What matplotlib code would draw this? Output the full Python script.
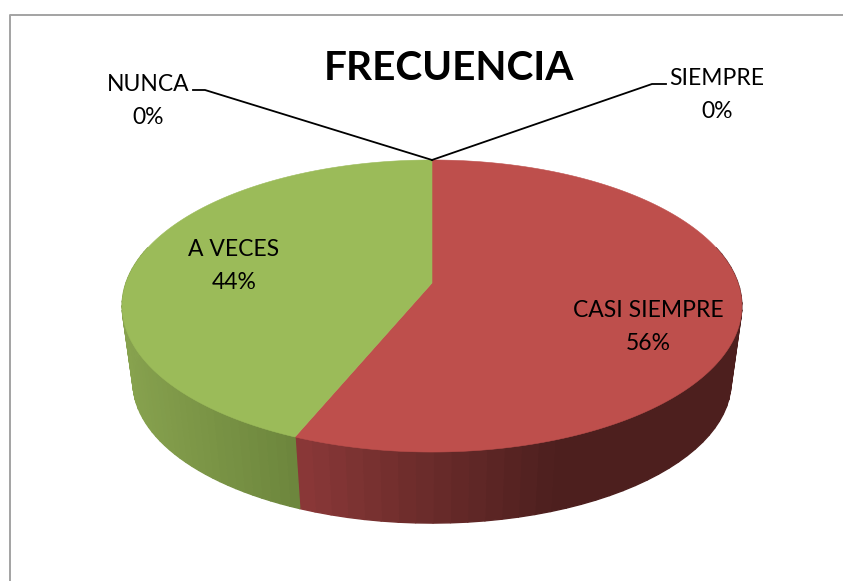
import numpy as np
import matplotlib
matplotlib.use("Agg")
import matplotlib.pyplot as plt
from matplotlib.patches import Polygon

categories = ["SIEMPRE", "CASI SIEMPRE", "A VECES", "NUNCA"]
values = [0, 56.25, 43.75, 0]
top_colors = ["#4F81BD", "#BE4F4C", "#9BBB59", "#8064A2"]
title = "FRECUENCIA"

W, H = 843, 581
plt.rcParams["font.family"] = ["Lato", "DejaVu Sans"]
fig = plt.figure(figsize=(W / 100, H / 100), dpi=100)
ax = fig.add_axes([0, 0, 1, 1])
ax.set_xlim(0, W)
ax.set_ylim(H, 0)
ax.axis("off")

# chart-area frame (only left and top edges fall inside the picture)
ax.plot([9.5, 9.5, W], [H, 14.5, 14.5], color="#A3A3A3", lw=1.4, solid_capstyle="butt", zorder=1)

# perspective projection of the pie disc
CX, CY, R, A, K = 432.0, 283.0, 306.0, 142.4, 0.1575
S, OFF = 0.965, 77.0


def rim(theta, bottom=False):
    """theta: clockwise from 12 o'clock, radians."""
    x, y = np.sin(theta), np.cos(theta)
    d = 1 + K * y
    px, py = R * x / d, -A * y / d
    if bottom:
        return CX + S * px, CY + S * py + OFF
    return CX + px, CY + py


def lerp_stops(x, xs, cols):
    cols = np.array([matplotlib.colors.to_rgb(c) for c in cols])
    return tuple(np.interp(x, xs, cols[:, i]) for i in range(3))


side_stops = {
    "CASI SIEMPRE": ([300, 420, 555, 745], ["#8A3838", "#6C2C2B", "#4D1F1E", "#4D1F1E"]),
    "A VECES": ([120, 300], ["#88A34F", "#6C853C"]),
}

total = sum(values)
fractions = np.array(values) / total
edges = np.concatenate([[0], np.cumsum(fractions)]) * 2 * np.pi

# side wall
for i, name in enumerate(categories):
    if values[i] == 0:
        continue
    start, end = edges[i], edges[i + 1]
    lo, hi = max(start, np.radians(75)), min(end, np.radians(285))
    steps = np.linspace(lo, hi, 46)
    for a, b in zip(steps[:-1], steps[1:]):
        xa, ya = rim(a)
        xb, yb = rim(b)
        xc, yc = rim(b, True)
        xd, yd = rim(a, True)
        col = lerp_stops((xa + xb + xc + xd) / 4, *side_stops[name])
        ax.add_patch(Polygon([(xa, ya), (xb, yb), (xc, yc), (xd, yd)], closed=True,
                             facecolor=col, edgecolor=col, lw=1.0, zorder=2))

# top face
for i, name in enumerate(categories):
    if values[i] == 0:
        continue
    t = np.linspace(edges[i], edges[i + 1], 240)
    xs, ys = rim(t)
    pts = [(CX, CY)] + list(zip(xs, ys))
    ax.add_patch(Polygon(pts, closed=True, facecolor=top_colors[i], edgecolor=top_colors[i],
                         lw=0.4, zorder=3))

# title
ax.text(449, 68, title, fontsize=29.2, fontweight="bold", ha="center", va="center",
        color="black", zorder=6)

# data labels
label_pos = {
    "SIEMPRE": (717, 95),
    "CASI SIEMPRE": (648, 327),
    "A VECES": (234, 266),
    "NUNCA": (148, 101),
}
for i, name in enumerate(categories):
    x, y = label_pos[name]
    ax.text(x, y, f"{name}\n{round(fractions[i] * 100)}%", fontsize=16.5, ha="center", va="center",
            color="black", linespacing=1.68, zorder=6)

# leader lines for empty slices
leaders = {"SIEMPRE": [(666, 84), (652, 84)], "NUNCA": [(193, 90), (205, 90)]}
for i, name in enumerate(categories):
    if name in leaders:
        ax_x, ax_y = rim(edges[i])
        pts = leaders[name] + [(float(ax_x), float(ax_y))]
        ax.plot(*zip(*pts), color="black", lw=1.3, solid_joinstyle="miter", zorder=5)

fig.savefig("out.png", dpi=100)
